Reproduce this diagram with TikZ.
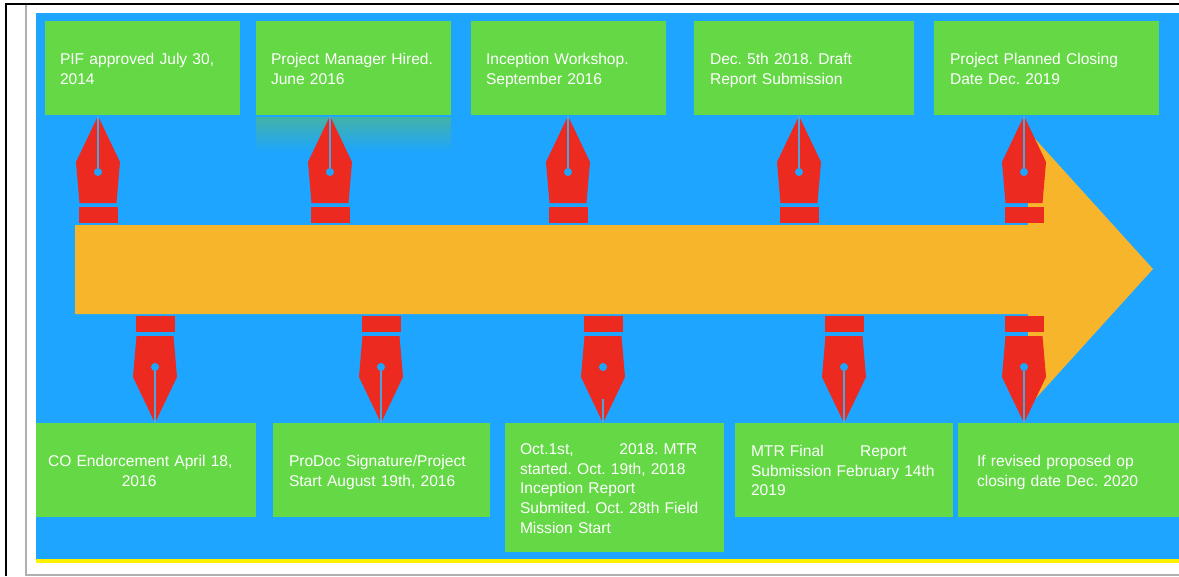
\documentclass[tikz,border=0pt]{standalone}
\usepackage{fontspec}
\setmainfont{Liberation Sans}
\definecolor{skyblue}{HTML}{1DA5FF}
\definecolor{leaf}{HTML}{64D845}
\definecolor{amber}{HTML}{F7B52B}
\definecolor{nibred}{HTML}{EC2A1F}
\definecolor{slitblue}{HTML}{4FA3DC}
\definecolor{fadegreen}{HTML}{42B2A6}
\definecolor{framegray}{HTML}{B0B0B0}
\usetikzlibrary{positioning}

\begin{document}
\begin{tikzpicture}[
    x=0.03cm, y=-0.03cm,
    box/.style 2 args={fill=leaf, text=white, align=left, inner ysep=0pt, inner xsep=#2*0.03cm, text width=(#1-2*#2)*0.03cm, minimum height=2.82cm, font=\fontsize{13.3}{16.8}\selectfont\frenchspacing, execute at begin node={\rule{0pt}{13.5pt}}, execute at end node={\rule[-2.8pt]{0pt}{2.8pt}}},
    slit/.style={draw=slitblue, line width=0.065cm},
    thinslit/.style={slit/.append style={line width=0.035cm}},
    pics/nib/.style={code={
        \fill[nibred] (0,0) -- (22,46) -- (18.5,87) -- (-18.5,87) -- (-22,46) -- cycle;
        \fill[nibred] (-19.5,91) rectangle (19.5,107);
        \draw[slit] (0,0) -- (0,#1);
        \fill[skyblue] (0,56) circle (0.12cm);
    }}
]
\useasboundingbox (0,0) rectangle (1179,576);
\fill[skyblue] (36,13) rectangle (1179,559);
\fill[yellow] (36,559) rectangle (1179,563);
\draw[black, line width=0.06cm] (6,576) -- (6,4) -- (1179,4);
\draw[framegray, line width=0.06cm] (26,5) -- (26,575) -- (1179,575);
\fill[amber] (75,225) -- (1028,225) -- (1028,131) -- (1153,269) -- (1028,407) -- (1028,314) -- (75,314) -- cycle;
\shade[top color=fadegreen, bottom color=skyblue] (256,117) rectangle (451,152);

\node[box={195}{15}] (pif) at (142.5,68) {PIF approved July 30,\\2014};
\node[box={195}{15}] (manager) at (353.5,68) {Project Manager Hired.\\June 2016};
\node[box={195}{15}] (workshop) at (568.5,68) {Inception Workshop.\\September 2016};
\node[box={220}{16}] (draft) at (804,68) {Dec. 5th 2018. Draft\\Report Submission};
\node[box={225}{16}] (closing) at (1046.5,68) {Project Planned Closing\\Date Dec. 2019};

\node[box={220}{12}] (endorse) at (146,470) {CO Endorcement April 18,\\\hspace*{63pt}2016};
\node[box={217}{16}] (prodoc) at (381.5,470) {ProDoc Signature/Project\\Start August 19th, 2016};
\node[box={219}{15}, minimum height=3.87cm] (mtr) at (614.5,487.5) {Oct.1st,\hspace{39pt}2018. MTR\\started. Oct. 19th, 2018\\Inception Report\\Submited. Oct. 28th Field\\Mission Start};
\node[box={218}{16}] (final) at (844,470) {MTR Final\hspace{31pt}Report\\Submission February 14th\\2019};
\node[box={221}{19}] (revised) at (1068.5,470) {If revised proposed op\\closing date Dec. 2020};

\foreach \x in {98,330,568,799,1024}
    \pic at (\x,116) {nib=56};
\foreach \x/\s in {155/56,381/56,603/24,844/56,1024/56}
    \pic[yscale=-1, thinslit] at (\x,423) {nib=\s};
\end{tikzpicture}
\end{document}
